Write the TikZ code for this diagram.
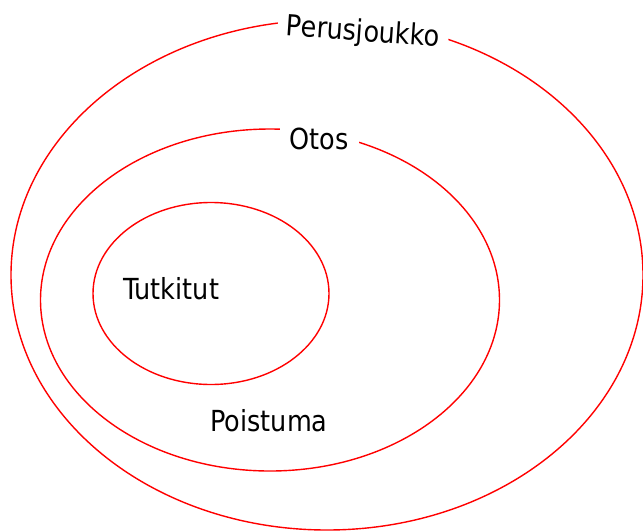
\documentclass[tikz,border=0pt]{standalone}
\usepackage{fontspec}
\setmainfont{DejaVu Sans}[FakeStretch=0.88]
\begin{document}
\begin{tikzpicture}[x=1pt,y=-1pt,
  ring/.style={draw=red,line width=1.4pt},
  lbl/.style={font=\fontsize{29}{34}\selectfont,text=black,inner sep=0pt},
  gaplbl/.style={lbl,fill=white,inner xsep=8pt,inner ysep=3pt}]
\useasboundingbox (0,0) rectangle (643,531);
\draw[ring] (327,275) ellipse [x radius=316, y radius=255];
\draw[ring] (270,300) ellipse [x radius=229.5, y radius=171];
\draw[ring] (211,293.5) ellipse [x radius=118, y radius=91];
\node[gaplbl,rotate=-4,inner xsep=9pt] (perus) at (363,33) {Perusjoukko};
\node[gaplbl,inner xsep=10pt] (otos) at (319,139) {Otos};
\node[lbl] (tutk) at (171,289) {Tutkitut};
\node[lbl] (poist) at (269,421) {Poistuma};
\end{tikzpicture}
\end{document}
